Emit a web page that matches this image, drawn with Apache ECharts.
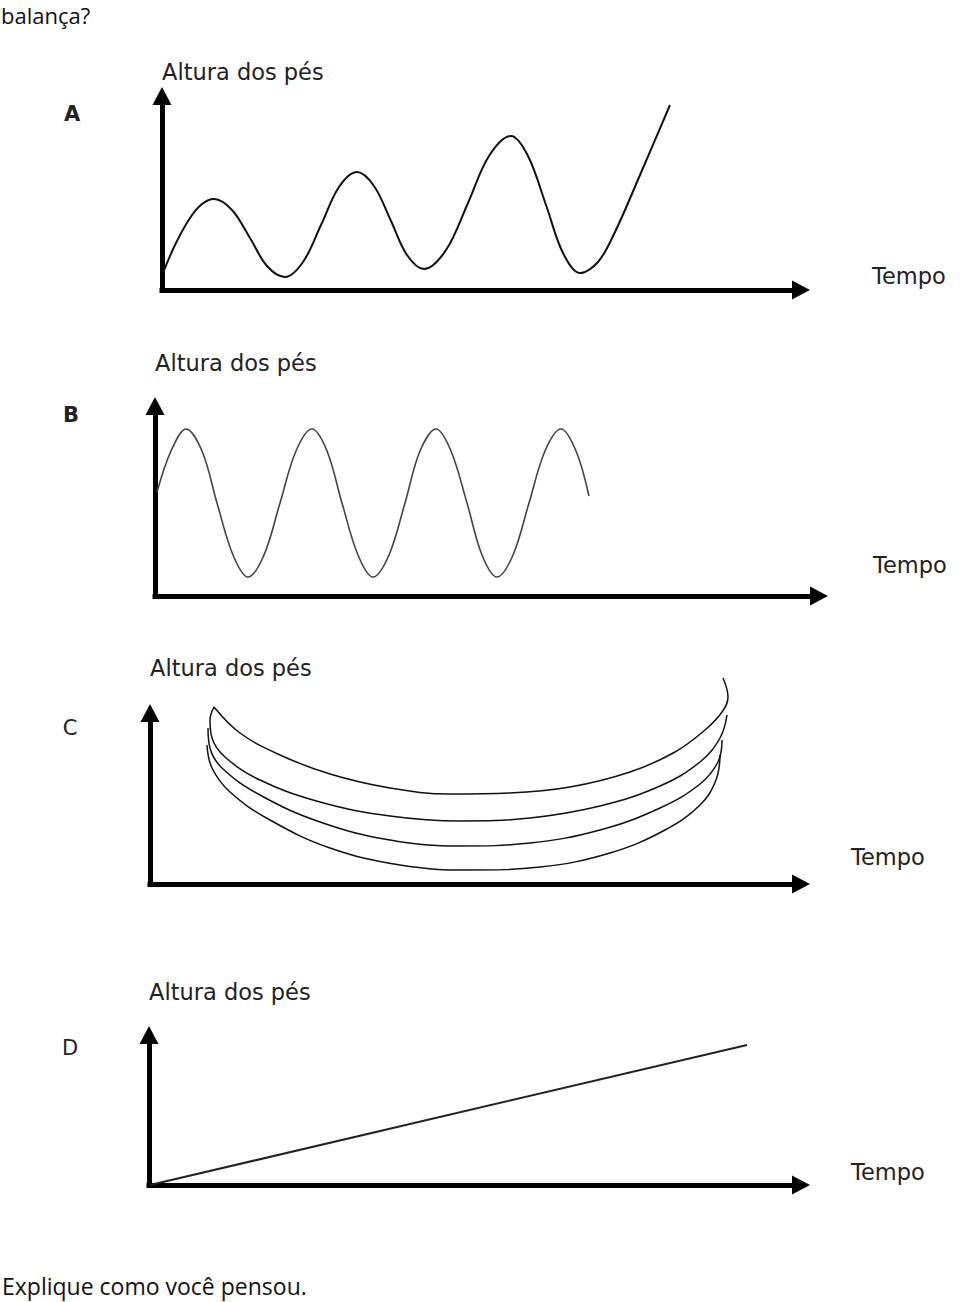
<!DOCTYPE html>
<html><head><meta charset="utf-8">
<script src="https://cdn.jsdelivr.net/npm/echarts@6/dist/echarts.min.js"></script>
<style>html,body{margin:0;padding:0;background:#fff}#c{width:960px;height:1302px}</style>
</head><body><div id="c"></div>
<script>
// ---- texts ----
const yAxisName = 'Altura dos pés';
const xAxisName = 'Tempo';
const panelLetters = ['A', 'B', 'C', 'D'];
const questionTop = 'balança?';
const questionBottom = 'Explique como você pensou.';

// ---- data (time, foot height) ----
// Panel A: growing swings
const aTime   = [1, 13, 28, 40, 52, 70, 88, 105, 123, 141, 159, 177, 195, 212, 229, 245, 262, 284, 306, 327, 349, 366, 384, 401, 418, 436, 453, 478, 508];
const aHeight = [17, 45, 72, 86, 91, 80, 52, 24, 13, 28, 65, 103, 118, 104, 69, 35, 21, 40, 87, 134, 154, 134, 85, 37, 17, 28, 58, 115, 185];
// Panel B: constant swings
const bTime   = [2, 16, 31, 47, 62, 78, 93, 109, 125, 141, 157, 172, 187, 203, 218, 234, 250, 265, 281, 296, 312, 327, 342, 358, 374, 390, 406, 421, 434];
const bHeight = [104, 145, 167, 145, 93, 41, 19, 41, 93, 145, 167, 145, 93, 41, 19, 41, 93, 145, 167, 145, 93, 41, 19, 41, 93, 145, 167, 145, 100];
// Panel C: stacked arcs
const c1Time   = [64, 90, 130, 180, 240, 300, 360, 420, 480, 525, 555, 572, 578, 573];
const c1Height = [177, 151, 129, 110, 96, 90, 91, 97, 112, 132, 154, 172, 187, 206];
const c2Time   = [64, 60, 62, 75, 110, 170, 240, 310, 380, 450, 510, 550, 570, 577];
const c2Height = [177, 164, 146, 127, 104, 82, 68, 63, 66, 78, 98, 122, 146, 169];
const c3Time   = [58, 60, 72, 110, 170, 240, 310, 380, 450, 510, 550, 568, 572];
const c3Height = [156, 136, 116, 89, 62, 44, 38, 41, 54, 76, 100, 122, 144];
const c4Time   = [57, 62, 80, 120, 180, 250, 320, 390, 460, 515, 550, 566, 570];
const c4Height = [139, 116, 92, 64, 36, 19, 14, 17, 31, 54, 79, 104, 129];
// Panel D: straight rise
const dTime   = [1, 598];
const dHeight = [0, 140];

const zip = (xs, ys) => xs.map((x, i) => [x, ys[i]]);

// ---- layout ----
const panels = [
  { left: 162, top: 96,   width: 639, height: 194, nameGap: 24, tempo: [872, 276], letter: [72, 114], bold: true },
  { left: 155, top: 406,  width: 664, height: 190, nameGap: 43, tempo: [873, 565], letter: [71, 415], bold: true },
  { left: 150, top: 713,  width: 651, height: 171, nameGap: 45, tempo: [851, 857], letter: [70, 728], bold: false },
  { left: 149, top: 1035, width: 652, height: 150, nameGap: 43, tempo: [851, 1172], letter: [70, 1048], bold: false }
];
const FONT = 'DejaVu Sans';
const axisLine = {
  show: true, onZero: false,
  symbol: ['none', 'triangle'], symbolSize: [19, 18],
  lineStyle: { color: '#000', width: 5, cap: 'square' }
};

const grid = panels.map(p => ({ left: p.left, top: p.top, width: p.width, height: p.height, containLabel: false }));
const xAxis = panels.map((p, i) => ({
  gridIndex: i, type: 'value', min: 0, max: p.width,
  axisLine: axisLine, axisTick: { show: false }, axisLabel: { show: false }, splitLine: { show: false }
}));
const yAxis = panels.map((p, i) => ({
  gridIndex: i, type: 'value', min: 0, max: p.height,
  axisLine: axisLine, axisTick: { show: false }, axisLabel: { show: false }, splitLine: { show: false },
  name: yAxisName, nameLocation: 'end', nameGap: p.nameGap,
  nameTextStyle: { fontFamily: FONT, fontSize: 22.5, color: '#222', align: 'left', verticalAlign: 'middle' }
}));

const lineSeries = (idx, data, width, color, smooth) => ({
  type: 'line', xAxisIndex: idx, yAxisIndex: idx, data: data,
  showSymbol: false, symbol: 'none', smooth: smooth, clip: false,
  lineStyle: { width: width, color: color }
});

const series = [
  lineSeries(0, zip(aTime, aHeight), 2, '#111', 0.35),
  lineSeries(1, zip(bTime, bHeight), 1.6, '#444', 0.35),
  lineSeries(2, zip(c1Time, c1Height), 1.5, '#111', 0.4),
  lineSeries(2, zip(c2Time, c2Height), 1.5, '#111', 0.4),
  lineSeries(2, zip(c3Time, c3Height), 1.5, '#111', 0.4),
  lineSeries(2, zip(c4Time, c4Height), 1.5, '#111', 0.4),
  lineSeries(3, zip(dTime, dHeight), 2, '#222', false)
];

const graphic = [];
panels.forEach((p, i) => {
  graphic.push({
    type: 'text', x: p.letter[0], y: p.letter[1],
    style: { text: panelLetters[i], font: (p.bold ? 'bold ' : '') + '21px "' + FONT + '"', fill: '#222', textAlign: 'center', textVerticalAlign: 'middle' }
  });
  graphic.push({
    type: 'text', x: p.tempo[0], y: p.tempo[1],
    style: { text: xAxisName, font: '22.5px "' + FONT + '"', fill: '#222', textAlign: 'left', textVerticalAlign: 'middle' }
  });
});
graphic.push({ type: 'text', x: 1, y: 4, style: { text: questionTop, font: '22px "Open Sans"', fill: '#111', textAlign: 'left', textVerticalAlign: 'top' } });
graphic.push({ type: 'text', x: 2, y: 1286, style: { text: questionBottom, font: '23px "Open Sans"', fill: '#111', textAlign: 'left', textVerticalAlign: 'middle' } });

const chart = echarts.init(document.getElementById('c'), null, { renderer: 'svg', width: 960, height: 1302 });
chart.setOption({
  animation: false,
  backgroundColor: '#fff',
  grid: grid, xAxis: xAxis, yAxis: yAxis, series: series, graphic: graphic
});
</script>
</body></html>
